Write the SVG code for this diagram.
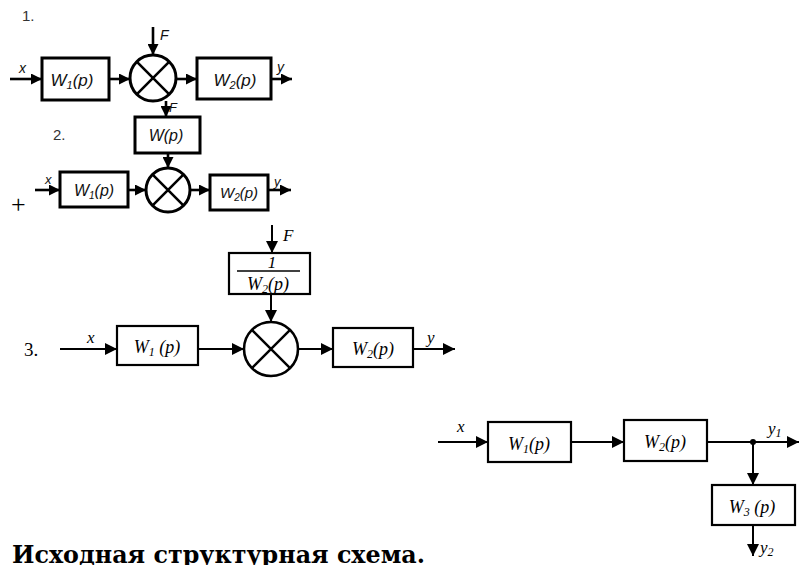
<svg xmlns="http://www.w3.org/2000/svg" width="800" height="565" viewBox="0 0 800 565">
<defs>
<style>
.box{fill:#fff;stroke:#000;}
.b1{stroke-width:3;}
.b3{stroke-width:2.2;}
.ln{fill:none;stroke:#000;}
.l1{stroke-width:2.6;}
.l3{stroke-width:2;}
.sans{font-family:"Liberation Sans",Arial,sans-serif;font-style:italic;fill:#111;}
.serif{font-family:"Liberation Serif","Times New Roman",serif;font-style:italic;fill:#000;}
.num{font-family:"Liberation Sans",Arial,sans-serif;fill:#333;font-size:15px;}
.mid{text-anchor:middle;}
</style>
<marker id="as" viewBox="0 0 10 10" refX="10" refY="5" markerWidth="11" markerHeight="11" markerUnits="userSpaceOnUse" orient="auto"><path d="M0,0 L10,5 L0,10 z" fill="#000"/></marker>
<marker id="al" viewBox="0 0 10 10" refX="10" refY="5" markerWidth="14" markerHeight="12" markerUnits="userSpaceOnUse" orient="auto"><path d="M0,0 L10,5 L0,10 z" fill="#000"/></marker>
</defs>

<!-- Diagram 1 -->
<text class="num" x="22" y="21">1.</text>
<g id="d1-w1">
<rect class="box b1" x="42" y="58" width="67" height="42"/>
<text class="sans mid" x="72" y="86" font-size="17">W<tspan font-size="11" dy="3">1</tspan><tspan dy="-3">(p)</tspan></text>
</g>
<g id="d1-sum">
<circle class="box b1" cx="153" cy="78" r="23"/>
<path class="ln l1" d="M136.7,61.7 L169.3,94.3 M169.3,61.7 L136.7,94.3"/>
</g>
<g id="d1-w2">
<rect class="box b1" x="197" y="58" width="74" height="41"/>
<text class="sans mid" x="235" y="86" font-size="17">W<tspan font-size="11" dy="3">2</tspan><tspan dy="-3">(p)</tspan></text>
</g>
<g id="d1-connectors">
<path class="ln l1" d="M10,79 L42,79" marker-end="url(#as)"/>
<path class="ln l1" d="M109,79 L130,79" marker-end="url(#as)"/>
<path class="ln l1" d="M153,27 L153,55" marker-end="url(#as)"/>
<path class="ln l1" d="M176,79 L197,79" marker-end="url(#as)"/>
<path class="ln l1" d="M271,79 L292,79" marker-end="url(#as)"/>
<text class="sans" x="19" y="73" font-size="14">x</text>
<text class="sans" x="160" y="40" font-size="14">F</text>
<text class="sans" x="277" y="72" font-size="14">y</text>
</g>

<!-- Diagram 2 -->
<text class="num" x="53" y="140">2.</text>
<text x="11" y="213" font-family="Liberation Serif,serif" font-size="26" fill="#000">+</text>
<g id="d2-w">
<rect class="box b1" x="135" y="117" width="65" height="36"/>
<text class="sans mid" x="166" y="141" font-size="16">W(p)</text>
</g>
<g id="d2-w1">
<rect class="box b1" x="60" y="172" width="68" height="35"/>
<text class="sans mid" x="94" y="196" font-size="16">W<tspan font-size="10" dy="3">1</tspan><tspan dy="-3">(p)</tspan></text>
</g>
<g id="d2-sum">
<circle class="box b1" cx="168" cy="190" r="22"/>
<path class="ln l1" d="M152.4,174.4 L183.6,205.6 M183.6,174.4 L152.4,205.6"/>
</g>
<g id="d2-w2">
<rect class="box b1" x="210" y="175" width="58" height="35"/>
<text class="sans mid" x="239" y="198" font-size="15">W<tspan font-size="10" dy="3">2</tspan><tspan dy="-3">(p)</tspan></text>
</g>
<g id="d2-connectors">
<path class="ln l1" d="M166,101 L166,117" marker-end="url(#as)"/>
<path class="ln l1" d="M168,153 L168,168" marker-end="url(#as)"/>
<path class="ln l1" d="M35,190 L60,190" marker-end="url(#as)"/>
<path class="ln l1" d="M128,190 L146,190" marker-end="url(#as)"/>
<path class="ln l1" d="M190,190 L210,190" marker-end="url(#as)"/>
<path class="ln l1" d="M268,190 L291,190" marker-end="url(#as)"/>
<text class="sans" x="169" y="112" font-size="13">F</text>
<text class="sans" x="45" y="184" font-size="13">x</text>
<text class="sans" x="274" y="186" font-size="13">y</text>
</g>

<!-- Diagram 3 -->
<text x="24" y="356" font-family="Liberation Serif,serif" font-size="19" fill="#000">3.</text>
<g id="d3-frac">
<rect class="box b3" x="229" y="253" width="81" height="41"/>
<text class="serif mid" x="272" y="268" font-size="17">1</text>
<line class="ln" x1="237" y1="271" x2="300" y2="271" stroke-width="1.3"/>
<text class="serif mid" x="268" y="290" font-size="18">W<tspan font-size="12" dy="3">2</tspan><tspan dy="-3">(p)</tspan></text>
</g>
<g id="d3-w1">
<rect class="box b3" x="117" y="326" width="81" height="39"/>
<text class="serif mid" x="157" y="353" font-size="18">W<tspan font-size="12" dy="3">1</tspan><tspan dy="-3"> (p)</tspan></text>
</g>
<g id="d3-sum">
<circle class="box" stroke-width="2.6" cx="271" cy="349" r="27"/>
<path class="ln" stroke-width="2.4" d="M251.9,329.9 L290.1,368.1 M290.1,329.9 L251.9,368.1"/>
</g>
<g id="d3-w2">
<rect class="box b3" x="333" y="328" width="80" height="39"/>
<text class="serif mid" x="373" y="355" font-size="18">W<tspan font-size="12" dy="3">2</tspan><tspan dy="-3">(p)</tspan></text>
</g>
<g id="d3-connectors">
<path class="ln l3" d="M60,349 L117,349" marker-end="url(#al)"/>
<path class="ln l3" d="M198,349 L244,349" marker-end="url(#al)"/>
<path class="ln l3" d="M272,225 L272,253" marker-end="url(#al)"/>
<path class="ln l3" d="M271,294 L271,322" marker-end="url(#al)"/>
<path class="ln l3" d="M298,349 L333,349" marker-end="url(#al)"/>
<path class="ln l3" d="M413,349 L455,349" marker-end="url(#al)"/>
<text class="serif" x="87" y="343" font-size="17">x</text>
<text class="serif" x="283" y="241" font-size="17">F</text>
<text class="serif" x="427" y="343" font-size="17">y</text>
</g>

<!-- Diagram 4 -->
<g id="d4-w1">
<rect class="box b3" x="488" y="422" width="83" height="40"/>
<text class="serif mid" x="529" y="450" font-size="18">W<tspan font-size="12" dy="3">1</tspan><tspan dy="-3">(p)</tspan></text>
</g>
<g id="d4-w2">
<rect class="box b3" x="624" y="420" width="83" height="41"/>
<text class="serif mid" x="665" y="448" font-size="18">W<tspan font-size="12" dy="3">2</tspan><tspan dy="-3">(p)</tspan></text>
</g>
<g id="d4-w3">
<rect class="box b3" x="712" y="485" width="83" height="40"/>
<text class="serif mid" x="752" y="513" font-size="18">W<tspan font-size="12" dy="3">3</tspan><tspan dy="-3"> (p)</tspan></text>
</g>
<g id="d4-connectors">
<path class="ln l3" d="M438,442 L488,442" marker-end="url(#al)"/>
<path class="ln l3" d="M571,442 L624,442" marker-end="url(#al)"/>
<path class="ln l3" d="M707,442 L799,442" marker-end="url(#al)"/>
<circle cx="753" cy="442" r="3" fill="#000"/>
<path class="ln l3" d="M753,442 L753,485" marker-end="url(#al)"/>
<path class="ln l3" d="M753,525 L753,556" marker-end="url(#al)"/>
<text class="serif" x="457" y="432" font-size="17">x</text>
<text class="serif" x="768" y="434" font-size="17">y<tspan font-size="12" dy="3">1</tspan></text>
<text class="serif" x="760" y="553" font-size="17">y<tspan font-size="12" dy="3">2</tspan></text>
</g>

<text x="12" y="563" font-family="DejaVu Serif,serif" font-weight="bold" font-size="24" textLength="413" lengthAdjust="spacingAndGlyphs" fill="#000">Исходная структурная схема.</text>
</svg>
